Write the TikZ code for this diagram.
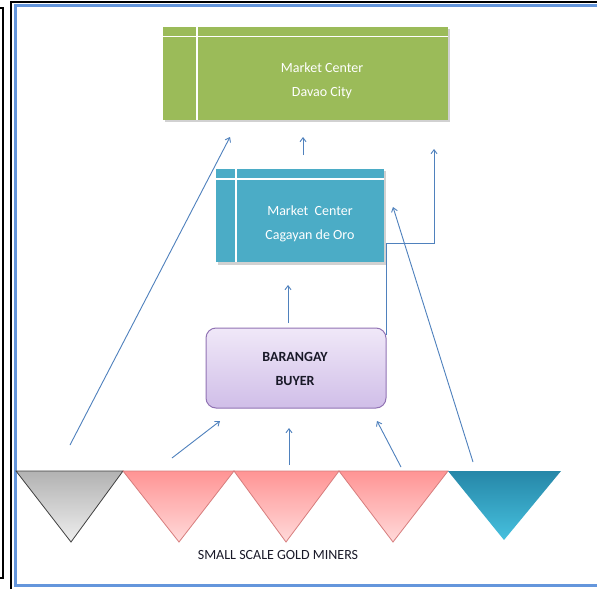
\documentclass[tikz,border=0pt]{standalone}
\usepackage{fontspec}
\setmainfont{Carlito}
\usetikzlibrary{arrows.meta,calc}
\definecolor{olivebox}{RGB}{155,187,89}
\definecolor{aquabox}{RGB}{75,172,198}
\definecolor{arrowblue}{RGB}{79,129,189}
\definecolor{frameblue}{RGB}{100,150,220}
\definecolor{purptop}{RGB}{240,232,248}
\definecolor{purpbot}{RGB}{208,190,232}
\definecolor{purpline}{RGB}{145,115,180}
\definecolor{pinktop}{RGB}{255,148,148}
\definecolor{pinkbot}{RGB}{255,218,218}
\definecolor{pinkline}{RGB}{215,125,125}
\definecolor{graytop}{RGB}{178,178,178}
\definecolor{graybot}{RGB}{238,238,238}
\definecolor{bluetop}{RGB}{38,135,168}
\definecolor{bluebot}{RGB}{70,192,222}
\definecolor{darktext}{RGB}{25,25,40}
\begin{document}
\begin{tikzpicture}[x=1pt,y=-1pt,
  flow/.style={draw=arrowblue, line width=0.9pt, -{Straight Barb[length=4pt,width=6pt]}},
  lbl/.style={font=\fontsize{14}{24}\selectfont, align=center, inner sep=0pt},
  tablebox/.style={minimum width=#1, inner sep=0pt, draw=none},
  sep/.style={draw=white, line width=1.6pt},
  shadowbox/.style={fill=black!18},
  tri/.style={line width=0.8pt, line join=miter}]
\useasboundingbox (0,0) rectangle (597,589);
\fill[white] (0,0) rectangle (597,589);
% frames
\draw[line width=1.6pt] (0,8) -- (3,8) -- (3,578) -- (0,578);
\draw[line width=1.6pt] (11,589) -- (11,2) -- (597,2);
\draw[frameblue, line width=3pt] (598,5) -- (15,5) -- (15,585) -- (598,585);

% Market Center Davao City
\fill[shadowbox] (165,29) rectangle (450,122);
\node[tablebox=285pt, minimum height=93pt, fill=olivebox] (davao) at (305.5,73) {};
\draw[sep] ($(davao.north west)+(34,0)$) -- ($(davao.south west)+(34,0)$);
\draw[sep] ($(davao.north west)+(0,10)$) -- ($(davao.north east)+(0,10)$);
\node[lbl, text=white] (davaotxt) at (322,81) {Market Center\\Davao City};

% Market Center Cagayan de Oro
\fill[shadowbox] (218,171) rectangle (386,265);
\node[tablebox=168pt, minimum height=93pt, fill=aquabox] (cdo) at (300,215.5) {};
\draw[sep] ($(cdo.north west)+(20,0)$) -- ($(cdo.south west)+(20,0)$);
\draw[sep] ($(cdo.north west)+(0,10)$) -- ($(cdo.north east)+(0,10)$);
\node[lbl, text=white] (cdotxt) at (310,224) {Market\ \ Center\\Cagayan de Oro};

% Barangay buyer
\node[minimum width=180pt, minimum height=80pt, rounded corners=10pt,
      top color=purptop, bottom color=purpbot, draw=purpline, line width=1pt] (buyer) at (296,368) {};
\node[lbl, text=darktext, font=\bfseries\fontsize{14}{24}\selectfont] (buyertxt) at (295,369) {BARANGAY\\BUYER};

% triangles
\shade[tri, top color=graytop, bottom color=graybot, draw=black!75] (16,471) -- (123,471) -- (71,542) -- cycle;
\shade[tri, top color=pinktop, bottom color=pinkbot, draw=pinkline] (123,471) -- (234,471) -- (179,542) -- cycle;
\shade[tri, top color=pinktop, bottom color=pinkbot, draw=pinkline] (234,471) -- (339,471) -- (286,542) -- cycle;
\shade[tri, top color=pinktop, bottom color=pinkbot, draw=pinkline] (339,471) -- (448,471) -- (393,542) -- cycle;
\shade[tri, top color=bluetop, bottom color=bluebot, draw=none] (448,471) -- (561,471) -- (504,540) -- cycle;
\node[lbl, text=darktext] (miners) at (278,555) {SMALL SCALE GOLD MINERS};

% connector ends
\coordinate (g0) at (70,445);   \coordinate (g1) at (230,137);
\coordinate (c0) at (303,155);  \coordinate (c1) at (303,137);
\coordinate (e0) at (386,335);  \coordinate (e1) at (434,243);  \coordinate (e2) at (434,149);
\coordinate (t0) at (473,462);  \coordinate (t1) at (393,207);
\coordinate (m0) at (288,323);  \coordinate (m1) at (288,285);
\coordinate (p0) at (172,458);  \coordinate (p1) at (220,421);
\coordinate (q0) at (289,465);  \coordinate (q1) at (289,428);
\coordinate (r0) at (401,467);  \coordinate (r1) at (377,421);

\draw[flow] (g0) -- (g1);
\draw[flow] (c0) -- (c1);
\draw[flow] (e0) |- (e1) -- (e2);
\draw[flow] (t0) -- (t1);
\draw[flow] (m0) -- (m1);
\draw[flow] (p0) -- (p1);
\draw[flow] (q0) -- (q1);
\draw[flow] (r0) -- (r1);
\end{tikzpicture}
\end{document}
